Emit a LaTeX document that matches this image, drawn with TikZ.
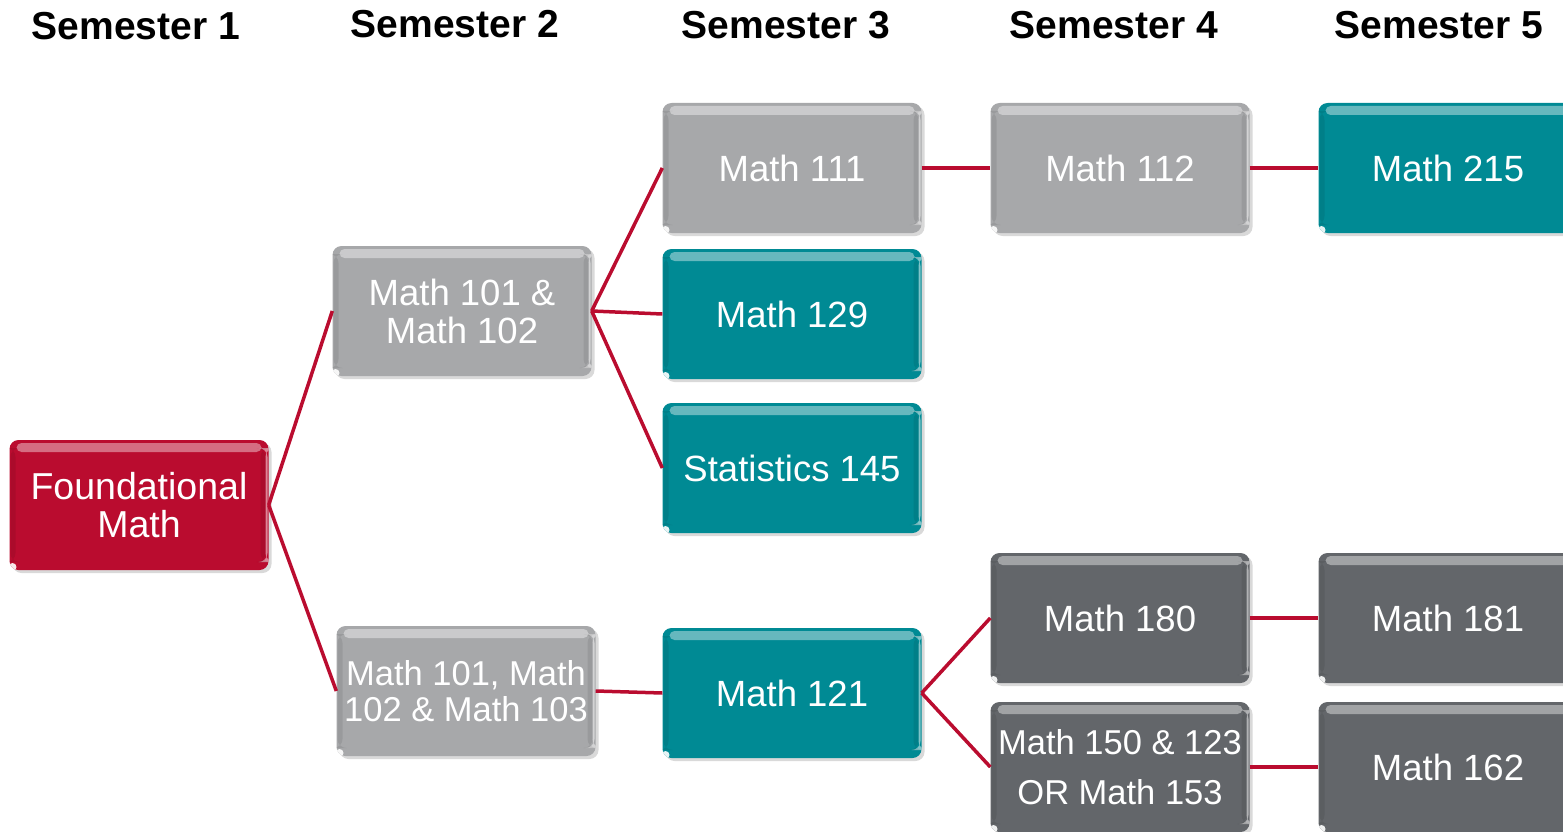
\documentclass[tikz,border=0pt]{standalone}
\usepackage{fontspec}
\newfontfamily\arial{Liberation Sans}
\usetikzlibrary{shadows}
\definecolor{cred}{HTML}{BA0C2F}
\definecolor{cgray}{HTML}{A7A8AA}
\definecolor{cteal}{HTML}{008A94}
\definecolor{cdark}{HTML}{63666A}
\tikzset{
  course/.style={rounded corners=9pt, fill=#1, text=white, align=center,
    minimum width=259pt, minimum height=130pt, inner sep=0pt,
    font=\arial\fontsize{36.5}{38}\selectfont,
    drop shadow={opacity=0.3, shadow xshift=3pt, shadow yshift=-3pt},
    path picture={
      \fill[white,opacity=0.4,rounded corners=5pt]
        ([xshift=7pt,yshift=-3pt]path picture bounding box.north west) rectangle
        ([xshift=-7pt,yshift=-12pt]path picture bounding box.north east);
      \fill[white,opacity=0.5]
        ([xshift=-3pt,yshift=-8pt]path picture bounding box.north east) rectangle
        ([xshift=-1pt,yshift=8pt]path picture bounding box.south east);
      \fill[black,opacity=0.08]
        ([xshift=-8pt,yshift=-8pt]path picture bounding box.north east) rectangle
        ([xshift=-3pt,yshift=8pt]path picture bounding box.south east);
      \fill[black,opacity=0.08]
        ([xshift=1pt,yshift=-8pt]path picture bounding box.north west) rectangle
        ([xshift=6pt,yshift=8pt]path picture bounding box.south west);
      \fill[white,opacity=0.9]
        ([xshift=3pt,yshift=3pt]path picture bounding box.south west) circle (4pt);
    }},
  course/.default=cgray,
  sem/.style={font=\arial\bfseries\fontsize{39}{42}\selectfont, anchor=base, inner sep=0pt},
  link/.style={draw=cred, line width=3.5pt}
}
\begin{document}
\begin{tikzpicture}[x=1pt,y=-1pt]
\useasboundingbox (0,0) rectangle (1563,832);
\clip (0,0) rectangle (1563,832);
% headers
\node[sem] (s1) at (136,40) {Semester 1};
\node[sem] (s2) at (455,38) {Semester 2};
\node[sem] (s3) at (786,39) {Semester 3};
\node[sem] (s4) at (1114,39) {Semester 4};
\node[sem] (s5) at (1439,39) {Semester 5};
% boxes
\node[course=cred, font=\arial\fontsize{37.5}{38}\selectfont] (fm) at (139,505) {Foundational\\Math};
\node[course=cgray] (m101) at (462,311) {Math 101 \&\\Math 102};
\node[course=cgray, font=\arial\fontsize{34.5}{36}\selectfont] (m103) at (466,691) {Math 101, Math\\102 \& Math 103};
\node[course=cgray] (m111) at (792,168) {Math 111};
\node[course=cteal] (m129) at (792,314) {Math 129};
\node[course=cteal] (st145) at (792,468) {Statistics 145};
\node[course=cteal] (m121) at (792,693) {Math 121};
\node[course=cgray] (m112) at (1120,168) {Math 112};
\node[course=cdark] (m180) at (1120,618) {Math 180};
\node[course=cdark, font=\arial\fontsize{34.5}{50}\selectfont] (m150) at (1120,767) {Math 150 \& 123\\OR Math 153};
\node[course=cteal] (m215) at (1448,168) {Math 215};
\node[course=cdark] (m181) at (1448,618) {Math 181};
\node[course=cdark] (m162) at (1448,767) {Math 162};
% connectors
\draw[link] (fm.east) -- (m101.west);
\draw[link] (fm.east) -- (m103.west);
\draw[link] (m101.east) -- (m111.west);
\draw[link] (m101.east) -- (m129.west);
\draw[link] (m101.east) -- (st145.west);
\draw[link] (m111.east) -- (m112.west);
\draw[link] (m112.east) -- (m215.west);
\draw[link] (m103.east) -- (m121.west);
\draw[link] (m121.east) -- (m180.west);
\draw[link] (m121.east) -- (m150.west);
\draw[link] (m180.east) -- (m181.west);
\draw[link] (m150.east) -- (m162.west);
\end{tikzpicture}
\end{document}
